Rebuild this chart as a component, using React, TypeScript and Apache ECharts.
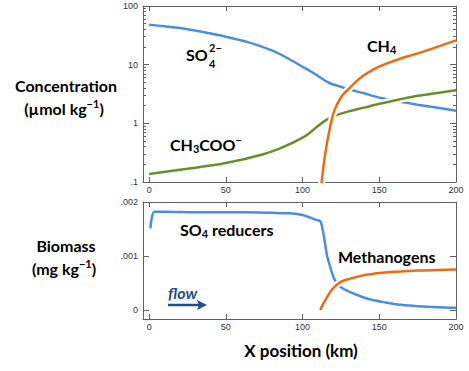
import React, { useEffect, useRef } from "react";
import * as echarts from "echarts";

// ---- data ----
const xTicks = [0, 50, 100, 150, 200];
const concMajorTicks = [0.1, 1, 10, 100];
const concMinorTicks = [0.2, 0.3, 0.4, 0.5, 0.6, 0.7, 0.8, 0.9, 2, 3, 4, 5, 6, 7, 8, 9, 20, 30, 40, 50, 60, 70, 80, 90];
const bioTicks = [0, 0.001, 0.002];

const so4X = [0, 10, 20, 35, 50, 65, 80, 90, 100, 106, 110, 113, 116, 120, 125, 130, 140, 151, 163, 175, 188, 200];
const so4Y = [48, 45, 42, 36, 30, 24, 17.5, 13, 9.2, 7.5, 6.4, 5.7, 5.1, 4.6, 4.2, 3.8, 3.25, 2.7, 2.35, 2.08, 1.84, 1.64];

const acX = [0, 25, 50, 75, 88, 100, 105, 110, 114, 117, 120, 123.5, 130, 140, 150, 163, 175, 188, 200];
const acY = [0.137, 0.168, 0.21, 0.3, 0.4, 0.57, 0.7, 0.9, 1.08, 1.2, 1.3, 1.42, 1.6, 1.85, 2.15, 2.55, 2.95, 3.3, 3.65];

const ch4X = [111.8, 112.8, 114, 115.5, 117, 118.5, 120, 122.5, 126, 130, 135, 140, 147, 153, 163, 173, 185, 200];
const ch4Y = [0.07, 0.12, 0.22, 0.4, 0.65, 1.0, 1.45, 2.1, 3.0, 3.85, 5.2, 6.6, 8.5, 10, 12.5, 15, 19, 26];

const srbX = [0.8, 3.5, 10, 30, 60, 80, 92, 100, 105, 109, 111.7, 113, 114, 116, 118, 120, 122, 125, 131, 139, 145, 152, 162, 175, 188, 200];
const srbY = [0.00151, 0.00182, 0.00182, 0.00181, 0.00181, 0.0018, 0.00179, 0.00176, 0.00171, 0.00167, 0.00164, 0.0015, 0.00135, 0.001, 0.0008, 0.00062, 0.00051, 0.00042, 0.00033, 0.00024, 0.00019, 0.00015, 0.0001, 0.00007, 0.00005, 0.00004];

const mgX = [111.5, 113, 115, 117, 119, 122, 125.5, 131, 140.7, 152, 162, 175, 188, 200];
const mgY = [0, 0.00009, 0.00019, 0.00029, 0.00037, 0.00046, 0.00053, 0.00058, 0.00065, 0.00069, 0.00071, 0.00073, 0.00074, 0.00075];

const pairs = (xs: number[], ys: number[]) => xs.map((x, i) => [x, ys[i]]);

const BLUE = "#4a8ee0";
const ORANGE = "#ef6a10";
const GREEN = "#6b8e2b";
const AXIS = "#606060";
const LABEL = "#333";
const FLOW = "#1f4e8c";

export default function App() {
  const ref = useRef<HTMLDivElement>(null);
  useEffect(() => {
    if (!ref.current) return;
    const chart = echarts.init(ref.current, null, { renderer: "svg" });

    const lbl = { fontSize: 9, color: LABEL, fontFamily: "Liberation Sans" };
    const tickStyle = { color: AXIS, width: 1 };
    const frameX = (grid: number, pos: "top" | "bottom", labels: boolean) => ({
      type: "value",
      gridIndex: grid,
      position: pos,
      min: -4,
      max: 200,
      axisLine: { show: true, onZero: false, lineStyle: { color: AXIS, width: 1 } },
      splitLine: { show: false },
      axisTick: { show: true, inside: true, length: 5, customValues: xTicks, lineStyle: tickStyle },
      axisLabel: { show: labels, customValues: xTicks, margin: 3, ...lbl },
    });
    const logFmt = (v: number) => (v < 1 ? String(v).replace(/^0/, "") : String(v));
    // data / label axis (log)
    const logAxis = (pos: "left" | "right", labels: boolean) => ({
      type: "log",
      logBase: 10,
      gridIndex: 0,
      position: pos,
      min: 0.1,
      max: 100,
      axisLine: { show: true, onZero: false, lineStyle: { color: AXIS, width: 1 } },
      splitLine: { show: false },
      axisTick: { show: false },
      axisLabel: { show: labels, formatter: logFmt, margin: 5, ...lbl },
    });
    // tick-only axis in log10 space
    const logTickAxis = (pos: "left" | "right", vals: number[], len: number) => ({
      type: "value",
      gridIndex: 0,
      position: pos,
      min: Math.log10(concMajorTicks[0]),
      max: Math.log10(concMajorTicks[concMajorTicks.length - 1]),
      axisLine: { show: false, onZero: false },
      splitLine: { show: false },
      axisLabel: { show: false },
      axisTick: { show: true, inside: true, length: len, customValues: vals.map((v) => Math.log10(v)), lineStyle: tickStyle },
    });
    const bioFmt = (v: number) => (v === 0 ? "0" : String(v).replace(/^0/, ""));
    const bioAxis = (pos: "left" | "right", labels: boolean) => ({
      type: "value",
      gridIndex: 1,
      position: pos,
      min: -0.000167,
      max: 0.002,
      axisLine: { show: true, onZero: false, lineStyle: { color: AXIS, width: 1 } },
      splitLine: { show: false },
      axisTick: { show: true, inside: true, length: 6, customValues: bioTicks, lineStyle: tickStyle },
      axisLabel: { show: labels, customValues: bioTicks, formatter: bioFmt, margin: 5, ...lbl },
    });

    const line = (data: number[][], color: string, xi: number, yi: number, width = 2.5, z = 2) => ({
      type: "line",
      xAxisIndex: xi,
      yAxisIndex: yi,
      data,
      showSymbol: false,
      symbol: "none",
      smooth: 0.3,
      lineStyle: { color, width },
      z,
      silent: true,
    });

    const annFont = "Lato";
    const txt = (x: number, y: number, text: string, size: number, extra: any = {}) => ({
      type: "text",
      x,
      y,
      style: {
        text,
        fontFamily: annFont,
        fontWeight: "bold",
        fontSize: size,
        lineHeight: size,
        fill: "#000",
        textAlign: "left",
        textVerticalAlign: "middle",
        ...extra,
      },
    });
    const richMain = { fontFamily: annFont, fontWeight: "bold", fontSize: 16, lineHeight: 20, verticalAlign: "middle", fill: "#000" };
    const richSub = { fontFamily: annFont, fontWeight: "bold", fontSize: 11, lineHeight: 11, verticalAlign: "bottom", fill: "#000" };
    const richSup = { fontFamily: annFont, fontWeight: "bold", fontSize: 11, lineHeight: 11, verticalAlign: "top", fill: "#000" };
    const richText = (x: number, y: number, text: string, align = "left") => ({
      type: "text",
      x,
      y,
      style: {
        text,
        textAlign: align,
        textVerticalAlign: "middle",
        rich: { a: richMain, b: richSub, p: richSup },
      },
    });

    chart.setOption({
      animation: false,
      grid: [
        { left: 143, right: 13, top: 6, height: 176 },
        { left: 143, right: 13, top: 202, height: 117 },
      ],
      xAxis: [
        frameX(0, "bottom", true),
        frameX(0, "top", false),
        frameX(1, "bottom", true),
        frameX(1, "top", false),
      ],
      yAxis: [
        logAxis("left", true),
        logAxis("right", false),
        logTickAxis("left", concMajorTicks, 6),
        logTickAxis("left", concMinorTicks, 3),
        logTickAxis("right", concMajorTicks, 6),
        logTickAxis("right", concMinorTicks, 3),
        bioAxis("left", true),
        bioAxis("right", false),
      ],
      series: [
        line(pairs(so4X, so4Y), BLUE, 0, 0, 2.5, 2),
        line(pairs(acX, acY), "#ffffff", 0, 0, 7, 3),
        line(pairs(acX, acY), GREEN, 0, 0, 2.5, 4),
        line(pairs(ch4X, ch4Y), "#ffffff", 0, 0, 7, 5),
        line(pairs(ch4X, ch4Y), ORANGE, 0, 0, 2.5, 6),
        line(pairs(srbX, srbY), BLUE, 2, 6, 2.5, 2),
        line(pairs(mgX, mgY), "#ffffff", 2, 6, 7, 3),
        line(pairs(mgX, mgY), ORANGE, 2, 6, 2.5, 4),
      ],
      graphic: [
        txt(66, 85, "Concentration", 16, { textAlign: "center" }),
        richText(64, 108, "{a|(µmol kg}{p|−1}{a|)}", "center"),
        txt(66, 245, "Biomass", 16, { textAlign: "center" }),
        richText(64, 268, "{a|(mg kg}{p|−1}{a|)}", "center"),
        txt(301, 350, "X position (km)", 17, { textAlign: "center" }),
        txt(186, 54, "SO", 16),
        txt(209, 47, "2−", 11),
        txt(209, 63, "4", 11),
        richText(367, 45, "{a|CH}{b|4}"),
        richText(170, 144, "{a|CH}{b|3}{a|COO}{p|−}"),
        richText(180, 229, "{a|SO}{b|4}{a| reducers}"),
        txt(338, 256, "Methanogens", 16),
        txt(168, 292, "flow", 16, { fontStyle: "italic", fill: FLOW }),
        { type: "line", shape: { x1: 168, y1: 305, x2: 199, y2: 305 }, style: { stroke: FLOW, lineWidth: 2.5 } },
        { type: "polygon", shape: { points: [[207, 305], [197, 300], [199, 305], [197, 310]] }, style: { fill: FLOW } },
      ],
    });
    return () => chart.dispose();
  }, []);
  return <div ref={ref} style={{ position: "absolute", left: 0, top: 0, width: 469, height: 371 }} />;
}
